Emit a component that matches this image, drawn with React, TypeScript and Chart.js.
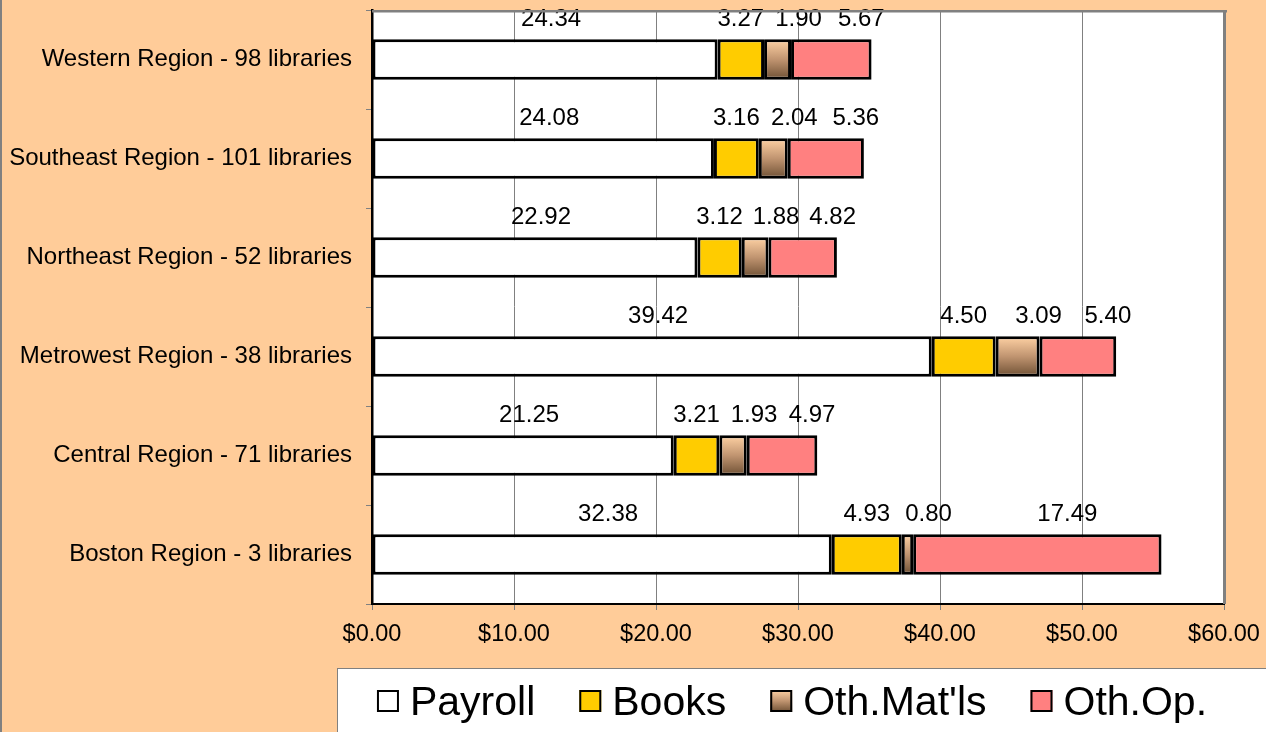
import React, { useEffect, useRef } from 'react';
import { Chart, registerables } from 'chart.js';

Chart.register(...registerables);

const categories = [
  'Western Region - 98 libraries',
  'Southeast Region - 101 libraries',
  'Northeast Region - 52 libraries',
  'Metrowest Region - 38 libraries',
  'Central Region - 71 libraries',
  'Boston Region - 3 libraries',
];
const payroll = [24.34, 24.08, 22.92, 39.42, 21.25, 32.38];
const books = [3.27, 3.16, 3.12, 4.5, 3.21, 4.93];
const othMatls = [1.9, 2.04, 1.88, 3.09, 1.93, 0.8];
const othOp = [5.67, 5.36, 4.82, 5.4, 4.97, 17.49];
const seriesNames = ['Payroll', 'Books', "Oth.Mat'ls", 'Oth.Op.'];
const xMin = 0;
const xMax = 60;
const xStep = 10;

const FONT = "'Liberation Sans', Arial, sans-serif";
const PEACH = '#FFCC99';
const labelDx = [6, 0, 21, 30];

function matGradient(ctx: CanvasRenderingContext2D, top: number, bottom: number) {
  const g = ctx.createLinearGradient(0, top, 0, bottom);
  g.addColorStop(0, '#FFD2A4');
  g.addColorStop(0.5, '#C09470');
  g.addColorStop(1, '#6E5034');
  return g;
}

const bgPlugin = {
  id: 'bgPlugin',
  beforeDraw(chart: any) {
    const { ctx, width, height, chartArea } = chart;
    ctx.save();
    ctx.fillStyle = PEACH;
    ctx.fillRect(0, 0, width, height);
    ctx.fillStyle = '#808080';
    ctx.fillRect(0, 0, 2, height);
    ctx.fillStyle = '#FFFFFF';
    ctx.fillRect(chartArea.left, chartArea.top, chartArea.right - chartArea.left, chartArea.bottom - chartArea.top);
    ctx.restore();
  },
  afterDraw(chart: any) {
    const { ctx, chartArea } = chart;
    ctx.save();
    ctx.fillStyle = '#808080';
    ctx.fillRect(chartArea.left, chartArea.top, chartArea.right - chartArea.left + 3, 2.5);
    ctx.fillRect(chartArea.right - 1, chartArea.top, 3, chartArea.bottom - chartArea.top);
    ctx.restore();
  },
};

const labelPlugin = {
  id: 'labelPlugin',
  afterDatasetsDraw(chart: any) {
    const { ctx } = chart;
    ctx.save();
    ctx.font = `24px ${FONT}`;
    ctx.fillStyle = '#000';
    ctx.textAlign = 'center';
    ctx.textBaseline = 'middle';
    chart.data.datasets.forEach((ds: any, di: number) => {
      const meta = chart.getDatasetMeta(di);
      meta.data.forEach((el: any, i: number) => {
        const cx = (el.x + el.base) / 2 + labelDx[di];
        const top = el.y - el.height / 2;
        ctx.fillText(Number(ds.data[i]).toFixed(2), cx, top - 20);
      });
    });
    ctx.restore();
  },
};

const legendPlugin = {
  id: 'customLegend',
  afterDraw(chart: any) {
    const { ctx, chartArea } = chart;
    ctx.save();
    ctx.fillStyle = '#FFFFFF';
    ctx.fillRect(337, 668, 960, 80);
    ctx.strokeStyle = '#808080';
    ctx.lineWidth = 1;
    ctx.strokeRect(337.5, 668.5, 960, 80);
    ctx.font = `41px ${FONT}`;
    const box = 22;
    const gap = 11;
    const spacing = 44;
    const widths = chart.data.datasets.map((d: any) => box + gap + ctx.measureText(d.label).width);
    const total = widths.reduce((a: number, b: number) => a + b, 0) + spacing * (widths.length - 1);
    let x = (chartArea.left + chartArea.right) / 2 - 6 - total / 2;
    const cy = 701;
    chart.data.datasets.forEach((d: any, i: number) => {
      const bx = x;
      const by = cy - box / 2;
      if (i === 2) ctx.fillStyle = matGradient(ctx, by, by + box);
      else ctx.fillStyle = d.legendColor;
      ctx.fillRect(bx, by, box, box);
      ctx.strokeStyle = '#000';
      ctx.lineWidth = 2;
      ctx.strokeRect(bx + 1, by + 1, box - 2, box - 2);
      ctx.fillStyle = '#000';
      ctx.textAlign = 'left';
      ctx.textBaseline = 'alphabetic';
      ctx.fillText(d.label, bx + box + gap, 715);
      x += widths[i] + spacing;
    });
    ctx.restore();
  },
};

export default function App() {
  const ref = useRef<HTMLCanvasElement | null>(null);
  useEffect(() => {
    document.body.style.margin = '0';
    const canvas = ref.current;
    if (!canvas) return;
    const half = 20;
    const matBg = (c: any) => {
      const chart = c.chart;
      const ys = chart.scales && chart.scales.y;
      if (!ys || c.dataIndex === undefined) return '#A08060';
      const cy = ys.getPixelForValue(c.dataIndex);
      if (!Number.isFinite(cy)) return '#A08060';
      return matGradient(chart.ctx, cy - half, cy + half);
    };
    const common = {
      borderColor: '#000000',
      borderWidth: 3,
      borderSkipped: false,
      categoryPercentage: 0.5,
      barPercentage: 0.82,
    };
    const chart = new Chart(canvas, {
      type: 'bar',
      data: {
        labels: categories,
        datasets: [
          { ...common, label: seriesNames[0], data: payroll, backgroundColor: '#FFFFFF', legendColor: '#FFFFFF' } as any,
          { ...common, label: seriesNames[1], data: books, backgroundColor: '#FFCC00', legendColor: '#FFCC00' } as any,
          { ...common, label: seriesNames[2], data: othMatls, backgroundColor: matBg, legendColor: '#A08060' } as any,
          { ...common, label: seriesNames[3], data: othOp, backgroundColor: '#FF8080', legendColor: '#FF8080' } as any,
        ],
      },
      options: {
        indexAxis: 'y',
        animation: false,
        responsive: false,
        maintainAspectRatio: false,
        layout: { padding: { left: 0, right: 42, top: 10, bottom: 0 } },
        plugins: {
          legend: { display: false },
          tooltip: { enabled: false },
        },
        scales: {
          x: {
            stacked: true,
            min: xMin,
            max: xMax,
            afterFit: (s: any) => { s.height = 128; s.paddingLeft = 0; s.paddingRight = 0; },
            ticks: {
              stepSize: xStep,
              color: '#000',
              padding: 10,
              font: { family: FONT, size: 23.5 },
              maxRotation: 0,
              callback: (v: any) => '$' + Number(v).toFixed(2),
            },
            grid: { color: '#808080', lineWidth: 1, tickLength: 6, tickColor: '#808080' },
            border: { color: '#000000', width: 2 },
          },
          y: {
            stacked: true,
            afterFit: (s: any) => { s.width = 372; s.paddingTop = 0; s.paddingBottom = 0; },
            ticks: {
              color: '#000',
              padding: 14,
              font: { family: FONT, size: 24 },
            },
            grid: { drawOnChartArea: false, tickLength: 6, tickColor: '#808080', offset: true },
            border: { color: '#000000', width: 2.5 },
          },
        },
      },
      plugins: [bgPlugin, labelPlugin, legendPlugin],
    } as any);
    return () => chart.destroy();
  }, []);
  return <canvas ref={ref} width={1266} height={732} style={{ display: 'block' }} />;
}
